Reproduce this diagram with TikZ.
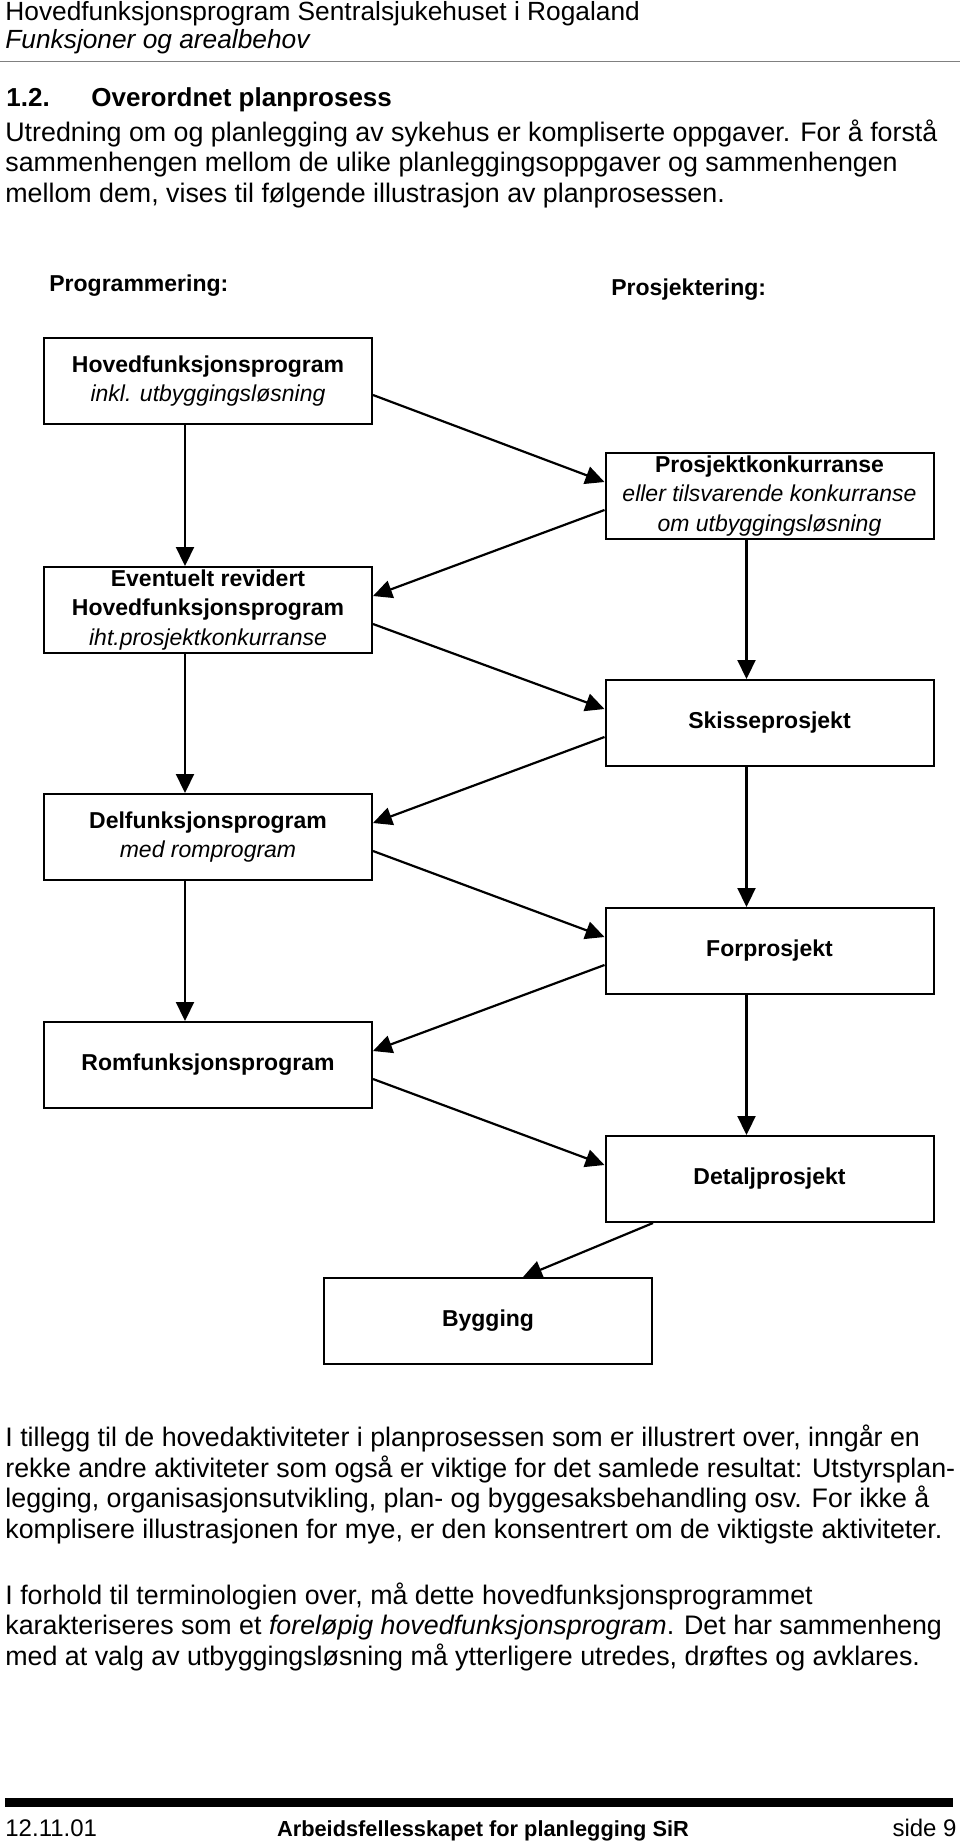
\documentclass[tikz,border=0pt]{standalone}
\usepackage{fontspec}
\setmainfont{Liberation Sans}
\usetikzlibrary{arrows.meta}

\begin{document}
\begin{tikzpicture}[x=0.5pt,y=-0.5pt,
    box/.style={draw,line width=1pt,minimum width=164pt,minimum height=43pt,inner sep=0pt,align=center,
                font=\fontsize{11.5}{14.6}\selectfont},
    flow/.style={-{Triangle[length=9.5pt,width=9pt]},line width=1.1pt},
    body/.style={anchor=base west,align=left,inner sep=0pt,font=\fontsize{13.4}{15.25}\selectfont},
    phase/.style={anchor=base west,inner sep=0pt,font=\fontsize{11.5}{14}\selectfont\bfseries}]
    \useasboundingbox (0,0) rectangle (960,1842);
    \node[body,font=\fontsize{13.15}{15}\selectfont] (head_1) at (5,20) {Hovedfunksjonsprogram Sentralsjukehuset i Rogaland};
    \node[body,font=\fontsize{13.15}{15}\selectfont\itshape] (head_2) at (5,48) {Funksjoner og arealbehov};
    \draw[gray,line width=0.5pt] (0,61) -- (960,61);
    \node[body,font=\fontsize{13}{15}\selectfont\bfseries] (sec_no) at (6,106) {1.2.};
    \node[body,font=\fontsize{13}{15}\selectfont\bfseries] (sec) at (91,106) {Overordnet planprosess};
    \node[body] (intro) at (5,202) {Utredning om og planlegging av sykehus er kompliserte oppgaver. For å forstå\\
        sammenhengen mellom de ulike planleggingsoppgaver og sammenhengen\\
        mellom dem, vises til følgende illustrasjon av planprosessen.};

    \node[phase] (prog) at (49,291) {Programmering:};
    \node[phase] (proj) at (611,295) {Prosjektering:};

    \node[box] (hfp) at (208,381) {\textbf{Hovedfunksjonsprogram}\\\textit{inkl. utbyggingsløsning}};
    \node[box] (pk) at (769.5,496) {\textbf{Prosjektkonkurranse}\\\textit{eller tilsvarende konkurranse}\\\textit{om utbyggingsløsning}};
    \node[box] (rev) at (208,610) {\textbf{Eventuelt revidert}\\\textbf{Hovedfunksjonsprogram}\\\textit{iht.prosjektkonkurranse}};
    \node[box] (skisse) at (769.5,723) {\textbf{Skisseprosjekt}};
    \node[box] (delf) at (208,837) {\textbf{Delfunksjonsprogram}\\\textit{med romprogram}};
    \node[box] (forp) at (769.5,951) {\textbf{Forprosjekt}};
    \node[box] (romf) at (208,1065) {\textbf{Romfunksjonsprogram}};
    \node[box] (detalj) at (769.5,1179) {\textbf{Detaljprosjekt}};
    \node[box] (bygg) at (488,1321) {\textbf{Bygging}};

    \draw[flow] ([xshift=-11.5pt]hfp.south) -- ([xshift=-11.5pt]rev.north);
    \draw[flow] ([xshift=-11.5pt]rev.south) -- ([xshift=-11.5pt]delf.north);
    \draw[flow] ([xshift=-11.5pt]delf.south) -- ([xshift=-11.5pt]romf.north);
    \draw[flow] ([xshift=-11.5pt]pk.south) -- ([xshift=-11.5pt]skisse.north);
    \draw[flow] ([xshift=-11.5pt]skisse.south) -- ([xshift=-11.5pt]forp.north);
    \draw[flow] ([xshift=-11.5pt]forp.south) -- ([xshift=-11.5pt]detalj.north);
    \draw[flow] ([yshift=-7pt]hfp.east) -- ([yshift=7pt]pk.west);
    \draw[flow] ([yshift=-7pt]pk.west) -- ([yshift=7pt]rev.east);
    \draw[flow] ([yshift=-7pt]rev.east) -- ([yshift=7pt]skisse.west);
    \draw[flow] ([yshift=-7pt]skisse.west) -- ([yshift=7pt]delf.east);
    \draw[flow] ([yshift=-7pt]delf.east) -- ([yshift=7pt]forp.west);
    \draw[flow] ([yshift=-7pt]forp.west) -- ([yshift=7pt]romf.east);
    \draw[flow] ([yshift=-7pt]romf.east) -- ([yshift=7pt]detalj.west);
    \draw[flow] (detalj.south -| bygg.north east) -- ([xshift=17.5pt]bygg.north);

    \node[body] (para_1) at (5,1538) {I tillegg til de hovedaktiviteter i planprosessen som er illustrert over, inngår en\\
        rekke andre aktiviteter som også er viktige for det samlede resultat: Utstyrsplan-\\
        legging, organisasjonsutvikling, plan- og byggesaksbehandling osv. For ikke å\\
        komplisere illustrasjonen for mye, er den konsentrert om de viktigste aktiviteter.};
    \node[body] (para_2) at (5,1665) {I forhold til terminologien over, må dette hovedfunksjonsprogrammet\\
        karakteriseres som et \textit{foreløpig hovedfunksjonsprogram}. Det har sammenheng\\
        med at valg av utbyggingsløsning må ytterligere utredes, drøftes og avklares.};

    \draw[line width=4.5pt] (5,1802) -- (953,1802);
    \node[body,font=\fontsize{12}{15}\selectfont] (date) at (5,1836) {12.11.01};
    \node[body,anchor=base,font=\fontsize{10.9}{15}\selectfont\bfseries] (org) at (483,1836) {Arbeidsfellesskapet for planlegging SiR};
    \node[body,anchor=base east,font=\fontsize{12}{15}\selectfont] (page) at (957,1836) {side 9};
\end{tikzpicture}
\end{document}
